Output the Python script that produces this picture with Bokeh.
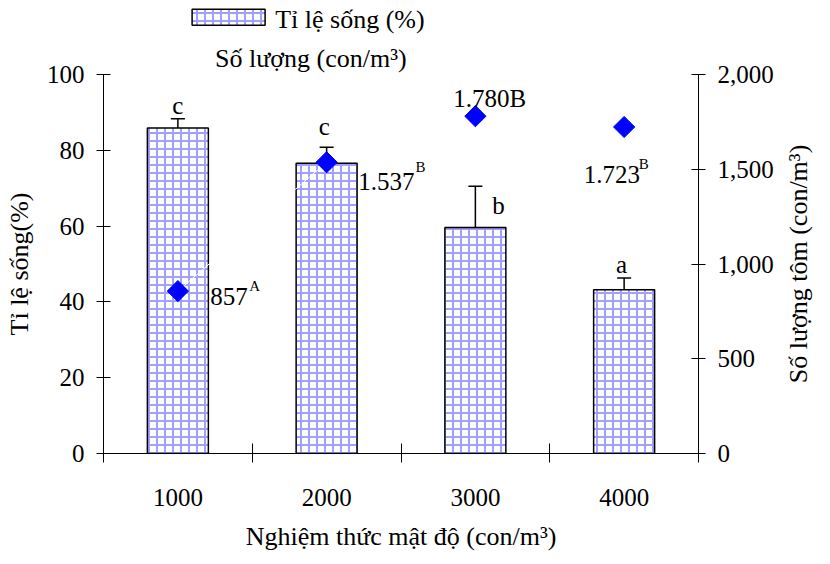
import math
from bokeh.plotting import figure
from bokeh.models import (LinearAxis, Range1d, FixedTicker, NumeralTickFormatter,
                          Label, Whisker, ColumnDataSource, TeeHead)
from bokeh.embed import file_html
from bokeh.resources import INLINE

# ---- data ----
categories = ["1000", "2000", "3000", "4000"]
xs = [1, 2, 3, 4]
survival = [85.9, 76.6, 59.6, 43.2]          # Tỉ lệ sống (%)
survival_err_top = [88.3, 80.8, 70.5, 46.3]  # upper end of error bar
counts = [857, 1537, 1780, 1723]             # Số lượng (con/m3)
count_labels = ["857", "1.537", "1.780B", "1.723"]
count_sups = ["A", "B", "", "B"]
sig_letters = ["c", "c", "b", "a"]

FONT = "Liberation Serif"
HATCH = "#a0a0ff"

p = figure(width=814, height=552, x_range=Range1d(0.5, 4.5), y_range=Range1d(0, 100),
           output_backend="svg", toolbar_location=None,
           min_border_left=103, min_border_right=116, min_border_top=70, min_border_bottom=99)
p.extra_y_ranges = {"count": Range1d(0, 2000)}
p.outline_line_color = None
p.xgrid.grid_line_color = None
p.ygrid.grid_line_color = None
p.background_fill_color = "white"

# bars
bars = p.vbar(x=xs, top=survival, width=0.41, fill_color="white", line_color="black",
              line_width=1.5, hatch_pattern="+", hatch_color=HATCH, hatch_scale=8,
              hatch_weight=2)

# error bars
err_src = ColumnDataSource(dict(x=xs, lower=survival, upper=survival_err_top))
p.add_layout(Whisker(source=err_src, base="x", lower="lower", upper="upper",
                     line_color="black", line_width=1.5,
                     upper_head=TeeHead(size=14, line_width=1.5, line_color="black"),
                     lower_head=None))

# count series
p.line(xs, counts, y_range_name="count", line_color="white", line_width=1)
p.scatter(xs, counts, y_range_name="count", marker="square", angle=math.pi / 4,
          size=15, color="#0000ff")

# axes
xa = p.xaxis[0]
xa.ticker = FixedTicker(ticks=xs, minor_ticks=[0.5, 1.5, 2.5, 3.5, 4.5])
xa.major_label_overrides = {x: c for x, c in zip(xs, categories)}
xa.major_tick_in = 0
xa.major_tick_out = 0
xa.minor_tick_in = 10
xa.minor_tick_out = 9
xa.minor_tick_line_color = "black"
xa.axis_line_color = "black"
xa.major_label_standoff = 26

ya = p.yaxis[0]
ya.ticker = FixedTicker(ticks=[0, 20, 40, 60, 80, 100])
ya.major_tick_in = 7
ya.major_tick_out = 7
ya.minor_tick_line_color = None
ya.axis_line_color = "black"
ya.major_tick_line_color = "black"
ya.major_label_standoff = 12
ya.axis_label = "Tỉ lệ sống(%)"
ya.axis_label_standoff = 10

ra = LinearAxis(y_range_name="count", ticker=FixedTicker(ticks=[0, 500, 1000, 1500, 2000]),
                formatter=NumeralTickFormatter(format="0,0"))
ra.major_tick_in = 7
ra.major_tick_out = 7
ra.minor_tick_line_color = None
ra.axis_line_color = "black"
ra.major_tick_line_color = "black"
ra.major_label_standoff = 12
p.add_layout(ra, "right")

for ax in (xa, ya, ra):
    ax.major_label_text_font = FONT
    ax.major_label_text_font_size = "25px"
    ax.major_label_text_color = "black"
    ax.axis_label_text_font = FONT
    ax.axis_label_text_font_size = "26px"
    ax.axis_label_text_font_style = "normal"
    ax.axis_label_text_color = "black"
    ax.axis_line_width = 1

# axis titles placed in the side panels
p.add_layout(Label(x=2.5, y=-21.9, text="Nghiệm thức mật độ (con/m³)", text_font=FONT,
                   text_color="black", text_font_size="26px", text_align="center",
                   text_baseline="middle"), "below")
p.add_layout(Label(x=5.17, y=50, text="Số lượng tôm (con/m³)", text_font=FONT,
                   text_color="black", text_font_size="26px", text_align="center",
                   text_baseline="middle", angle=math.pi / 2), "right")

# significance letters
letter_pos = [(1.0, 91.9), (1.984, 86.2), (3.155, 65.5), (3.983, 49.9)]
for (lx, ly), t in zip(letter_pos, sig_letters):
    p.add_layout(Label(x=lx, y=ly, text=t, text_font=FONT, text_font_size="25px",
                       text_color="black", text_align="center", text_baseline="middle"))

# count labels
label_pos = [(1.217, 830), (2.213, 1436), (2.852, 1875), (3.728, 1473)]
sup_pos = [(1.480, 883), (2.597, 1514), (0, 0), (4.098, 1530)]
for (lx, ly), t in zip(label_pos, count_labels):
    p.add_layout(Label(x=lx, y=ly, y_range_name="count", text=t, text_font=FONT,
                       text_color="black", text_font_size="25px", text_align="left",
                       text_baseline="middle"))
for (sx, sy), t in zip(sup_pos, count_sups):
    if t:
        p.add_layout(Label(x=sx, y=sy, y_range_name="count", text=t, text_font=FONT,
                           text_color="black", text_font_size="15px", text_align="left",
                           text_baseline="middle"))

# legend (manual, in the top side panel)
swatch = Label(x=1.341, y=115.1, text=" ", text_font=FONT, text_font_size="12px",
               text_align="center", text_baseline="middle",
               background_fill_color="white", border_line_color="black",
               border_line_width=1.5)
for k, v in [("padding", dict(left=35, right=35, top=1, bottom=1)),
             ("background_hatch_pattern", "+"), ("background_hatch_color", HATCH),
             ("background_hatch_scale", 8), ("background_hatch_weight", 2)]:
    try:
        setattr(swatch, k, v)
    except Exception:
        pass
p.add_layout(swatch, "above")
p.add_layout(Label(x=1.654, y=114.6, text="Tỉ lệ sống (%)", text_font=FONT,
                   text_color="black", text_font_size="26px", text_align="left",
                   text_baseline="middle"), "above")
p.add_layout(Label(x=1.250, y=104.2, text="Số lượng (con/m³)", text_font=FONT,
                   text_color="black", text_font_size="26px", text_align="left",
                   text_baseline="middle"), "above")

open("out.html", "w").write(file_html(p, INLINE))
